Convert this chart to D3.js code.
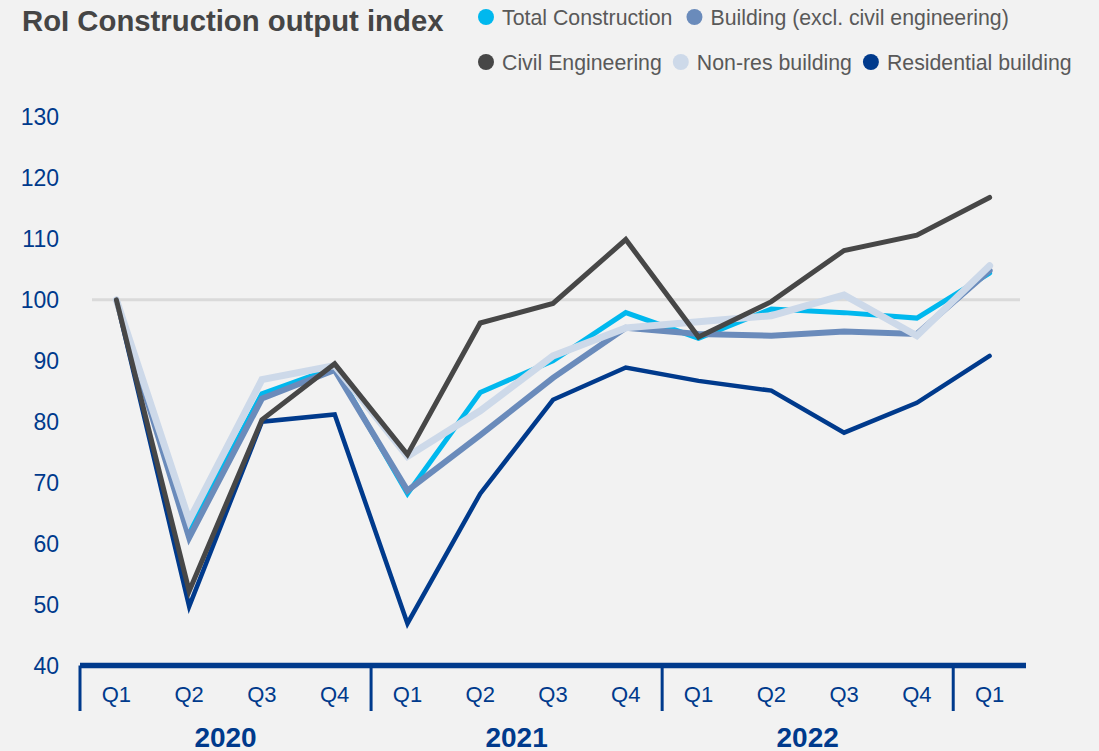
<!DOCTYPE html>
<html lang="en">
  <head>
    <meta charset="UTF-8" />
    <script src="https://d3js.org/d3.v7.min.js"></script>
    <title>RoI Construction output index</title>
    <style>
      body { margin: 0; background: #f2f2f2; }
      svg { display: block; font-family: "Liberation Sans", Arial, sans-serif; }
    </style>
  </head>
  <body>
    <svg id="chart" width="1099" height="751"></svg>
    <script>
      // data
      const quarters = ["Q1", "Q2", "Q3", "Q4", "Q1", "Q2", "Q3", "Q4", "Q1", "Q2", "Q3", "Q4", "Q1"];
      const years = ["2020", "2021", "2022"];
      const yTicks = [40, 50, 60, 70, 80, 90, 100, 110, 120, 130];

      const totalConstruction = [100, 62.3, 84.6, 88.9, 68.2, 84.8, 90.0, 97.9, 93.7, 98.5, 97.9, 97.0, 104.4];
      const building = [100, 61.0, 83.8, 88.5, 68.7, 77.8, 87.2, 95.4, 94.4, 94.1, 94.8, 94.4, 104.8];
      const civilEngineering = [100, 52.2, 80.3, 89.5, 74.6, 96.2, 99.4, 109.9, 93.9, 99.7, 108.1, 110.6, 116.8];
      const nonRes = [100, 63.8, 86.9, 89.2, 74.3, 81.8, 90.8, 95.4, 96.4, 97.4, 100.8, 94.1, 105.6];
      const residential = [100, 49.7, 80.0, 81.2, 46.9, 68.2, 83.6, 88.9, 86.7, 85.1, 78.2, 83.1, 90.8];

      const series = [
        { name: "Total Construction", values: totalConstruction, color: "#00b8ee", width: 5 },
        { name: "Building (excl. civil engineering)", values: building, color: "#6a8bbb", width: 6 },
        { name: "Civil Engineering", values: civilEngineering, color: "#474747", width: 5 },
        { name: "Non-res building", values: nonRes, color: "#cdd9e9", width: 7 },
        { name: "Residential building", values: residential, color: "#003a8c", width: 4.5 },
      ];
      // drawing order (bottom to top)
      const drawOrder = [4, 0, 1, 3, 2];

      const blue = "#003a8c";
      const svg = d3.select("#chart");

      const x = d3.scaleBand().domain(d3.range(quarters.length)).range([80, 1026]);
      const y = d3.scaleLinear().domain([40, 130]).range([665.5, 117]);

      // title
      svg.append("text")
        .attr("x", 22).attr("y", 31)
        .style("font-size", "29.3px").style("font-weight", "bold")
        .style("fill", "#454545")
        .text("RoI Construction output index");

      // legend, two rows flowing left to right
      const legendRows = [[0, 1], [2, 3, 4]];
      const rowGap = [22, 19];
      legendRows.forEach((row, r) => {
        let cx = 486;
        const cy = r === 0 ? 17 : 62;
        row.forEach((i) => {
          const g = svg.append("g");
          g.append("circle").attr("cx", cx).attr("cy", cy).attr("r", 8).style("fill", series[i].color);
          const t = g.append("text")
            .attr("x", cx + 16).attr("y", cy + 7.5)
            .style("font-size", "21.3px").style("fill", "#595959")
            .text(series[i].name);
          cx += 16 + t.node().getComputedTextLength() + rowGap[r];
        });
      });

      // y labels
      svg.append("g").selectAll("text")
        .data(yTicks)
        .join("text")
        .attr("x", 59).attr("y", (d) => y(d))
        .attr("dy", "0.36em")
        .attr("text-anchor", "end")
        .style("font-size", "23px").style("fill", blue)
        .text((d) => d);

      // reference line at 100
      svg.append("line")
        .attr("x1", 92).attr("x2", 1020)
        .attr("y1", y(100)).attr("y2", y(100))
        .style("stroke", "#dadada").style("stroke-width", 3);

      // lines
      const line = d3.line()
        .x((d, i) => x(i) + x.bandwidth() / 2)
        .y((d) => y(d));

      svg.append("g").selectAll("path")
        .data(drawOrder.map((i) => series[i]))
        .join("path")
        .attr("d", (d) => line(d.values))
        .style("fill", "none")
        .style("stroke", (d) => d.color)
        .style("stroke-width", (d) => d.width)
        .style("stroke-linecap", "round")
        .style("stroke-linejoin", "miter");

      // x axis
      const axisY = y(40);
      svg.append("line")
        .attr("x1", 80).attr("x2", 1026)
        .attr("y1", axisY).attr("y2", axisY)
        .style("stroke", blue).style("stroke-width", 5.5);

      const separators = [0, 4, 8, 12];
      svg.append("g").selectAll("line")
        .data(separators)
        .join("line")
        .attr("x1", (d) => x(d)).attr("x2", (d) => x(d))
        .attr("y1", axisY).attr("y2", 711)
        .style("stroke", blue).style("stroke-width", 3);

      svg.append("g").selectAll("text")
        .data(quarters)
        .join("text")
        .attr("x", (d, i) => x(i) + x.bandwidth() / 2)
        .attr("y", 702)
        .attr("text-anchor", "middle")
        .style("font-size", "22px").style("fill", blue)
        .text((d) => d);

      svg.append("g").selectAll("text")
        .data(years)
        .join("text")
        .attr("x", (d, i) => (x(i * 4) + x(i * 4 + 3) + x.bandwidth()) / 2)
        .attr("y", 747)
        .attr("text-anchor", "middle")
        .style("font-size", "28px").style("font-weight", "bold").style("fill", blue)
        .text((d) => d);
    </script>
  </body>
</html>
